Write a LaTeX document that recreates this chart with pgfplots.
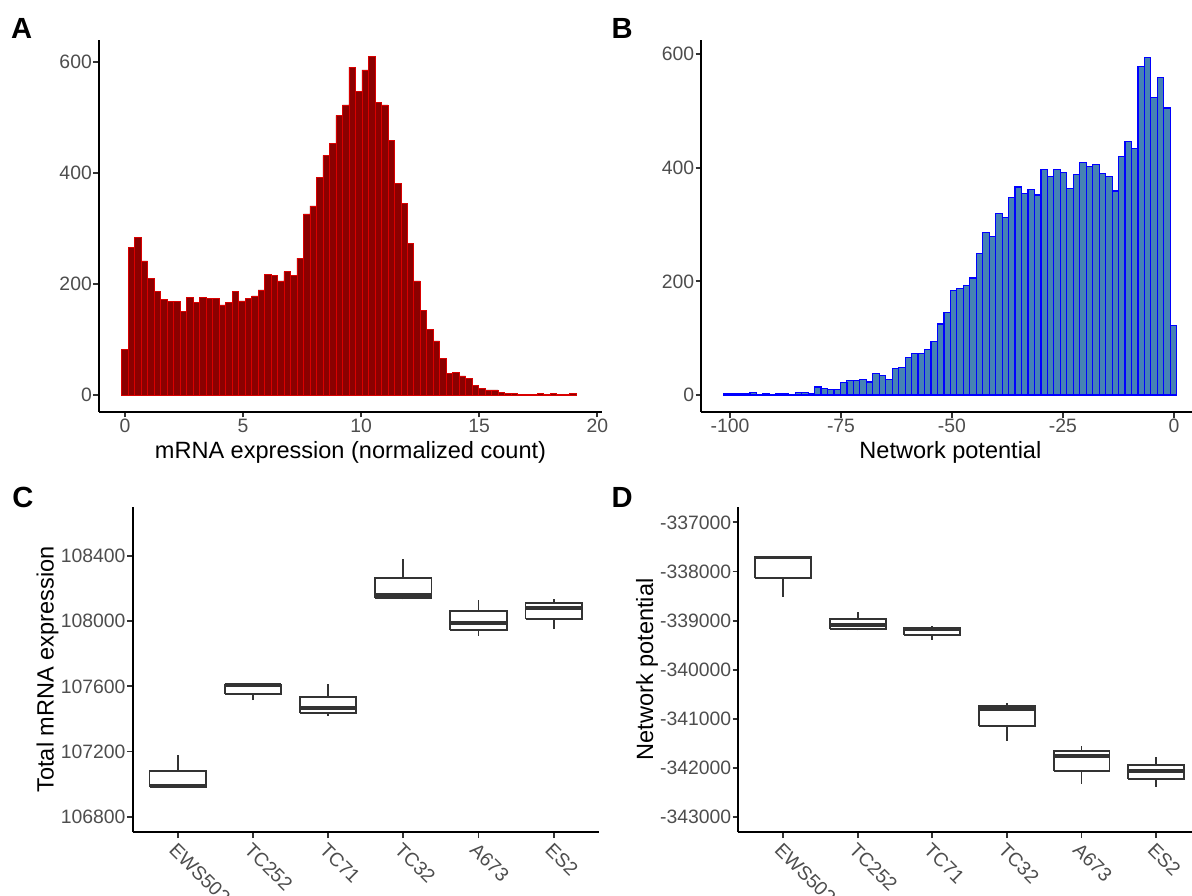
\documentclass[border=0pt]{standalone}
\usepackage{fontspec}
\setmainfont{Liberation Sans}
\usepackage{pgfplots}
\pgfplotsset{compat=1.18}

\definecolor{tickgray}{HTML}{4D4D4D}
\definecolor{gray20}{HTML}{333333}
\definecolor{histred}{HTML}{8B0000}
\definecolor{histblue}{HTML}{4682B4}

\pgfplotsset{
  gg/.style={
    scale only axis,
    axis lines=left,
    axis line style={-, black, line width=0.9pt},
    tick align=outside,
    major tick length=2.75pt,
    tick style={gray20, line width=0.9pt},
    minor tick num=0,
    ticklabel style={font=\fontsize{9.3}{11}\selectfont, text=tickgray, inner sep=0.5pt},
    /pgf/number format/assume math mode=true,
    /pgf/number format/1000 sep={},
    scaled ticks=false,
    label style={font=\fontsize{11.3}{13}\selectfont, text=black},
    ylabel style={yshift=-3pt},
    clip=false,
  },
  boxline/.style={gray20, line width=0.9pt, mark=none, solid},
}

% one box: position, lower whisker, lower quartile, median, upper quartile, upper whisker
\newcommand{\ggbox}[6]{%
  \pgfmathsetmacro\bl{#1-0.375}\pgfmathsetmacro\br{#1+0.375}%
  \addplot[boxline] coordinates {(#1,#2)(#1,#3)};
  \addplot[boxline] coordinates {(#1,#5)(#1,#6)};
  \addplot[boxline] coordinates {(\bl,#3)(\br,#3)(\br,#5)(\bl,#5)(\bl,#3)};
  \addplot[boxline, line width=1.9pt] coordinates {(\bl,#4)(\br,#4)};
}

\begin{document}
\begin{tikzpicture}
\useasboundingbox (0,0) rectangle (572.16pt,430.08pt);

% A: histogram of mRNA expression
\begin{axis}[gg, at={(47.52pt,232.46pt)}, anchor=south west,
  width=241.44pt, height=178.56pt,
  xmin=-1.1, xmax=20.2, ymin=-30.45, ymax=639.45,
  xtick={0,5,10,15,20}, ytick={0,200,400,600},
  xlabel={mRNA expression (normalized count)}]
\addplot[ybar, bar width=0.2748, fill=histred, draw=red!85!black, line width=0.25pt] coordinates {
(0,82)(0.275,265)(0.550,284)(0.824,241)(1.099,210)(1.374,186)(1.649,172)(1.924,168)(2.198,168)(2.473,150)
(2.748,176)(3.023,166)(3.298,176)(3.572,174)(3.847,174)(4.122,162)(4.397,166)(4.672,186)(4.946,169)(5.221,174)
(5.496,178)(5.771,189)(6.046,217)(6.320,215)(6.595,205)(6.870,222)(7.145,215)(7.420,246)(7.694,326)(7.969,340)
(8.244,391)(8.519,431)(8.794,453)(9.068,503)(9.343,522)(9.618,590)(9.893,547)(10.168,585)(10.442,609)(10.717,527)
(10.992,522)(11.267,458)(11.542,381)(11.816,345)(12.091,273)(12.366,205)(12.641,152)(12.916,118)(13.190,97)(13.465,65)
(13.740,39)(14.015,41)(14.290,34)(14.564,29)(14.839,17)(15.114,12)(15.389,9)(15.664,9)(15.938,5)(16.213,3)
(16.488,3)(16.763,1)(17.038,1)(17.312,1)(17.587,3)(17.862,1)(18.137,3)(18.412,1)(18.686,1)(18.961,3)
};
\end{axis}

% B: histogram of network potential
\begin{axis}[gg, at={(336.67pt,232.37pt)}, anchor=south west,
  width=239.04pt, height=178.37pt,
  xmin=-106.45, xmax=5.74, ymin=-29.7, ymax=624.3,
  xtick={-100,-75,-50,-25,0}, ytick={0,200,400,600},
  xlabel={Network potential}]
\addplot[ybar, bar width=1.457, fill=histblue, draw=blue, line width=0.55pt] coordinates {
(-100.62,2)(-99.16,2)(-97.71,2)(-96.25,2)(-94.79,5)(-93.34,0)(-91.88,2)(-90.42,0)(-88.96,2)(-87.51,2)
(-86.05,0)(-84.59,5)(-83.14,5)(-81.68,2)(-80.22,14)(-78.77,11)(-77.31,9)(-75.85,9)(-74.39,22)(-72.94,26)
(-71.48,26)(-70.02,28)(-68.57,23)(-67.11,38)(-65.65,35)(-64.20,28)(-62.74,47)(-61.28,49)(-59.82,66)(-58.37,73)
(-56.91,73)(-55.45,80)(-54.00,94)(-52.54,125)(-51.08,145)(-49.63,184)(-48.17,188)(-46.71,192)(-45.25,206)(-43.80,249)
(-42.34,286)(-40.88,279)(-39.43,319)(-37.97,312)(-36.51,348)(-35.06,366)(-33.60,355)(-32.14,361)(-30.68,352)(-29.23,397)
(-27.77,385)(-26.31,397)(-24.86,392)(-23.40,364)(-21.94,388)(-20.49,409)(-19.03,402)(-17.57,406)(-16.11,390)(-14.66,385)
(-13.20,359)(-11.74,420)(-10.29,446)(-8.83,434)(-7.37,578)(-5.92,594)(-4.46,524)(-3.00,559)(-1.54,505)(-0.09,123)
};
\end{axis}

% C: total mRNA expression per cell line
\begin{axis}[gg, at={(63.65pt,30.58pt)}, anchor=south west,
  width=223.78pt, height=156.29pt,
  xmin=0.4, xmax=6.6, ymin=106704, ymax=108703,
  xtick={1,2,3,4,5,6}, xticklabels={EWS502,TC252,TC71,TC32,A673,ES2},
  xticklabel style={rotate=-45, anchor=north west, inner sep=1pt},
  ytick={106800,107200,107600,108000,108400},
  yticklabel style={/pgf/number format/fixed, /pgf/number format/precision=0},
  ylabel={Total mRNA expression}]
\ggbox{1}{106980}{106980}{106988}{107078}{107178}
\ggbox{2}{107516}{107553}{107606}{107610}{107622}
\ggbox{3}{107418}{107438}{107467}{107537}{107612}
\ggbox{4}{108134}{108142}{108161}{108265}{108382}
\ggbox{5}{107911}{107946}{107991}{108060}{108130}
\ggbox{6}{107952}{108013}{108083}{108109}{108138}
\end{axis}

% D: network potential per cell line
\begin{axis}[gg, at={(354.43pt,30.58pt)}, anchor=south west,
  width=222pt, height=156.29pt,
  xmin=0.4, xmax=6.6, ymin=-343305, ymax=-336681,
  xtick={1,2,3,4,5,6}, xticklabels={EWS502,TC252,TC71,TC32,A673,ES2},
  xticklabel style={rotate=-45, anchor=north west, inner sep=1pt},
  ytick={-343000,-342000,-341000,-340000,-339000,-338000,-337000},
  yticklabel style={/pgf/number format/fixed, /pgf/number format/precision=0},
  ylabel={Network potential}]
\ggbox{1}{-338512}{-338132}{-337715}{-337705}{-337705}
\ggbox{2}{-339197}{-339163}{-339095}{-338966}{-338831}
\ggbox{3}{-339386}{-339298}{-339175}{-339156}{-339102}
\ggbox{4}{-341441}{-341142}{-340803}{-340736}{-340668}
\ggbox{5}{-342322}{-342064}{-341753}{-341658}{-341542}
\ggbox{6}{-342376}{-342227}{-342051}{-341929}{-341780}
\end{axis}

\node[font=\fontsize{14}{16}\selectfont\bfseries] at (10.4pt,416.6pt) {A};
\node[font=\fontsize{14}{16}\selectfont\bfseries] at (298.6pt,416.6pt) {B};
\node[font=\fontsize{14}{16}\selectfont\bfseries] at (11pt,191.3pt) {C};
\node[font=\fontsize{14}{16}\selectfont\bfseries] at (298.6pt,191.3pt) {D};
\end{tikzpicture}
\end{document}
